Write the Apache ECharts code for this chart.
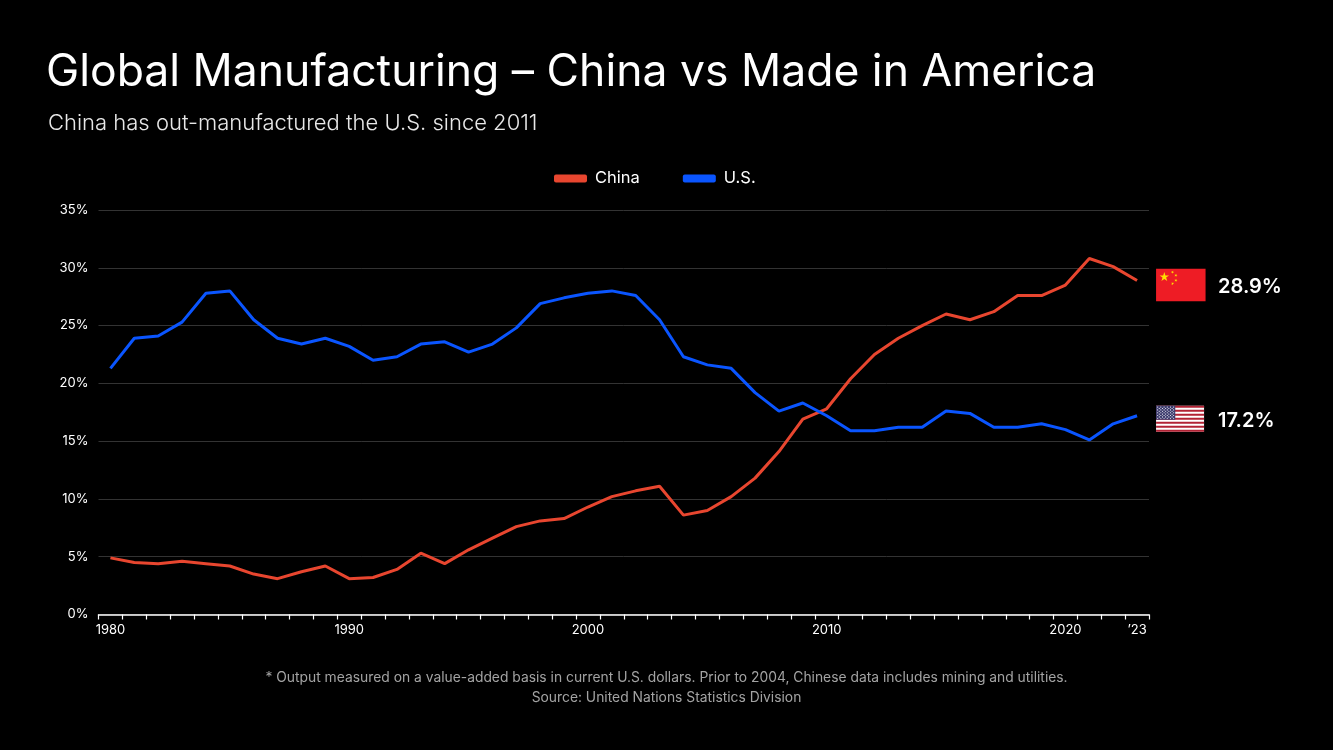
<!DOCTYPE html>
<html>
<head>
<meta charset="utf-8">
<script src="https://cdn.jsdelivr.net/npm/echarts@6/dist/echarts.min.js"></script>
<style>
  html, body { margin: 0; padding: 0; background: #000; }
  #main { width: 1333px; height: 750px; }
</style>
</head>
<body>
<div id="main"></div>
<script>
// share of global manufacturing output, %
var years = [];
for (var y = 1980; y <= 2023; y++) years.push(String(y));

var china = [4.9, 4.5, 4.4, 4.6, 4.4, 4.2, 3.5, 3.1, 3.7, 4.2,
             3.1, 3.2, 3.9, 5.3, 4.4, 5.6, 6.6, 7.6, 8.1, 8.3,
             9.3, 10.2, 10.7, 11.1, 8.6, 9.0, 10.2, 11.8, 14.1, 16.9,
             17.8, 20.4, 22.5, 23.9, 25.0, 26.0, 25.5, 26.2, 27.6, 27.6,
             28.5, 30.8, 30.1, 28.9];

var us = [21.3, 23.9, 24.1, 25.3, 27.8, 28.0, 25.5, 23.9, 23.4, 23.9,
          23.2, 22.0, 22.3, 23.4, 23.6, 22.7, 23.4, 24.8, 26.9, 27.4,
          27.8, 28.0, 27.6, 25.5, 22.3, 21.6, 21.3, 19.2, 17.6, 18.3,
          17.2, 15.9, 15.9, 16.2, 16.2, 17.6, 17.4, 16.2, 16.2, 16.5,
          16.0, 15.1, 16.5, 17.2];

var labelYears = ['1980', '1990', '2000', '2010', '2020', '2023'];
var labelTexts = ['1980', '1990', '2000', '2010', '2020', '\u201923'];

var RED = '#E8462F';
var BLUE = '#0A55FF';
var FONT = 'Inter';

var myChart = echarts.init(document.getElementById('main'));

var option = {
    backgroundColor: '#000',
    textStyle: { fontFamily: FONT },
    title: [
        {
            text: 'Global Manufacturing \u2013 China vs Made in America',
            left: 41, top: 45,
            textStyle: { color: '#fff', fontSize: 44.5, fontWeight: 400, fontFamily: FONT }
        },
        {
            text: 'China has out-manufactured the U.S. since 2011',
            left: 43, top: 107,
            textStyle: { color: '#e8e8e8', fontSize: 22, fontWeight: 300, fontFamily: FONT }
        },
        {
            text: '* Output measured on a value-added basis in current U.S. dollars. Prior to 2004, Chinese data includes mining and utilities.',
            left: 'center', top: 666,
            textStyle: { color: '#a3a3a3', fontSize: 13.85, fontWeight: 400, fontFamily: FONT }
        },
        {
            text: 'Source: United Nations Statistics Division',
            left: 'center', top: 686,
            textStyle: { color: '#a3a3a3', fontSize: 13.85, fontWeight: 400, fontFamily: FONT }
        }
    ],
    legend: {
        data: ['China', 'U.S.'],
        left: 549, top: 165,
        icon: 'roundRect',
        itemWidth: 33, itemHeight: 8,
        itemGap: 43,
        textStyle: { color: '#fff', fontSize: 16.5, fontFamily: FONT, padding: [0, 0, 0, 3] }
    },
    grid: { left: 98.5, right: 184, top: 210, bottom: 135.5, containLabel: false },
    xAxis: {
        type: 'category',
        data: years,
        boundaryGap: true,
        axisLine: { show: true, lineStyle: { color: '#fff', width: 1.5 } },
        axisTick: { show: true, interval: 0, length: 5, lineStyle: { color: '#fff', width: 1.2 } },
        axisLabel: {
            interval: function (i, v) { return labelYears.indexOf(v) >= 0; },
            formatter: function (v) { return labelTexts[labelYears.indexOf(v)]; },
            color: '#fff', fontSize: 13, fontFamily: FONT, margin: 9
        },
        splitLine: { show: false }
    },
    yAxis: {
        type: 'value',
        min: 0, max: 35, interval: 5,
        axisLine: { show: false },
        axisTick: { show: false },
        axisLabel: { formatter: '{value}%', color: '#fff', fontSize: 13, fontFamily: FONT, margin: 10 },
        splitLine: { lineStyle: { color: '#333', width: 1 } }
    },
    series: [
        {
            name: 'China', type: 'line', data: china,
            symbol: 'none', smooth: false,
            color: RED,
            lineStyle: { color: RED, width: 3 }
        },
        {
            name: 'U.S.', type: 'line', data: us,
            symbol: 'none', smooth: false,
            color: BLUE,
            lineStyle: { color: BLUE, width: 3 }
        }
    ]
};

myChart.setOption(option);

// flags + end values, placed from the last data point through the chart scales
function starPoints(cx, cy, r, rot) {
    var pts = [];
    for (var i = 0; i < 10; i++) {
        var rr = i % 2 === 0 ? r : r * 0.382;
        var a = rot - Math.PI / 2 + i * Math.PI / 5;
        pts.push([cx + rr * Math.cos(a), cy + rr * Math.sin(a)]);
    }
    return pts;
}

function chinaFlag(x, y) {
    var w = 49.5, h = 32.5, s = w / 30;
    var els = [{ type: 'rect', shape: { x: x, y: y, width: w, height: h }, style: { fill: '#EE1C25' } }];
    els.push({ type: 'polygon', shape: { points: starPoints(x + 5 * s, y + 5 * s, 3 * s, 0) }, style: { fill: '#FFDE00' } });
    var small = [[10, 2], [12, 4], [12, 7], [10, 9]];
    small.forEach(function (p) {
        els.push({ type: 'polygon', shape: { points: starPoints(x + p[0] * s, y + p[1] * s, 1 * s, 0.4) }, style: { fill: '#FFDE00' } });
    });
    return els;
}

function usFlag(x, y) {
    var w = 48, h = 26, sh = h / 13;
    var els = [{ type: 'rect', shape: { x: x, y: y, width: w, height: h }, style: { fill: '#fff' } }];
    for (var i = 0; i < 13; i += 2) {
        els.push({ type: 'rect', shape: { x: x, y: y + i * sh, width: w, height: sh }, style: { fill: '#B22234' } });
    }
    var cw = w * 0.4, ch = sh * 7;
    els.push({ type: 'rect', shape: { x: x, y: y, width: cw, height: ch }, style: { fill: '#3C3B6E' } });
    for (var r = 0; r < 9; r++) {
        var n = r % 2 === 0 ? 6 : 5;
        for (var c = 0; c < n; c++) {
            var cx = x + cw / 12 * (2 * c + 1 + (r % 2));
            var cy = y + ch / 10 * (r + 1);
            els.push({ type: 'circle', shape: { cx: cx, cy: cy, r: 0.55 }, style: { fill: '#fff' } });
        }
    }
    return els;
}

function endLabels() {
    var last = years.length - 1;
    var pc = myChart.convertToPixel({ xAxisIndex: 0, yAxisIndex: 0 }, [years[last], china[last]]);
    var pu = myChart.convertToPixel({ xAxisIndex: 0, yAxisIndex: 0 }, [years[last], us[last]]);
    var fx = pc[0] + 19;
    var els = [];
    var cy = pc[1] + 4.5;
    els = els.concat(chinaFlag(fx, cy - 16.25));
    els.push({ type: 'text', x: fx + 62, y: cy + 2, style: {
        text: china[last].toFixed(1) + '%', fill: '#fff', font: '600 20px ' + FONT,
        textAlign: 'left', textVerticalAlign: 'middle' } });
    var uy = pu[1] + 3;
    els = els.concat(usFlag(fx, uy - 13));
    els.push({ type: 'text', x: fx + 62, y: uy + 2, style: {
        text: us[last].toFixed(1) + '%', fill: '#fff', font: '600 20px ' + FONT,
        textAlign: 'left', textVerticalAlign: 'middle' } });
    myChart.setOption({ graphic: { elements: els } });
}
endLabels();

window.addEventListener('resize', function () { myChart.resize(); });
</script>
</body>
</html>
